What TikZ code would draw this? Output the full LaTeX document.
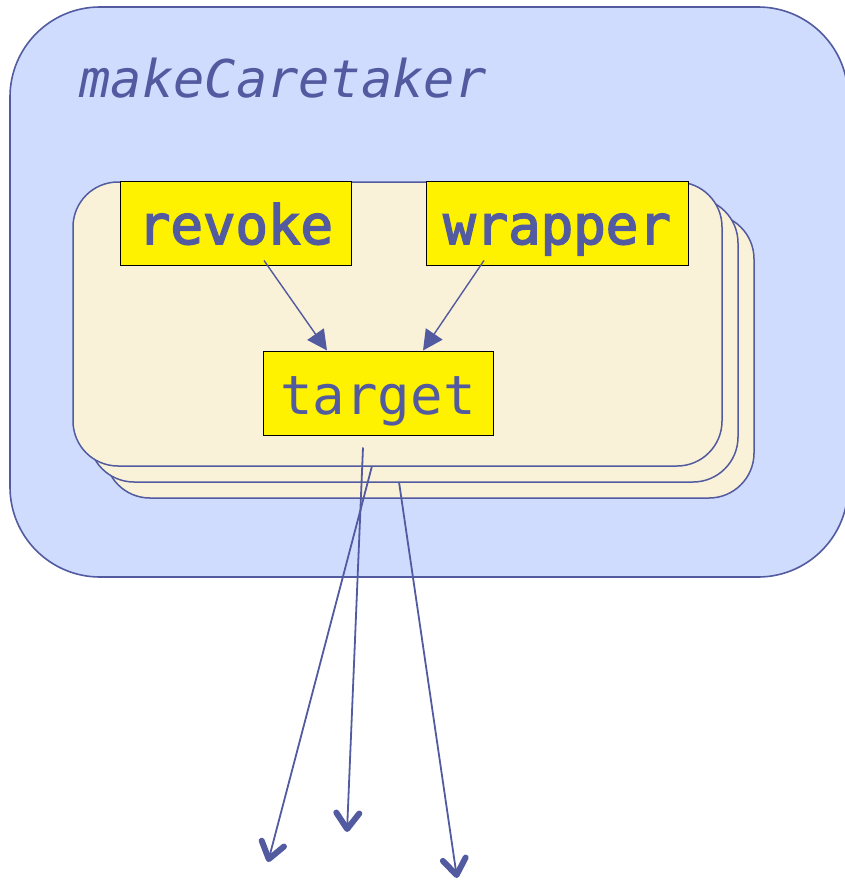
\documentclass[tikz,border=0pt]{standalone}
\usepackage{fontspec}
\setmonofont{DejaVu Sans Mono}
\newfontfamily\heavymono[FakeBold=3]{DejaVu Sans Mono}
\usetikzlibrary{arrows.meta}
\definecolor{ink}{RGB}{82,90,160}
\definecolor{caretaker}{RGB}{207,220,254}
\definecolor{cream}{RGB}{249,241,216}

\begin{document}
\begin{tikzpicture}[x=1pt,y=-1pt,
  fn/.style={draw=black,fill=yellow,line width=1pt,minimum width=#1,minimum height=84pt,
    inner sep=0pt,text=ink,text height=48pt,text depth=6pt,font=\fontsize{54}{54}\selectfont\ttfamily},
  heavy/.style={font=\fontsize{54}{54}\selectfont\heavymono},
  edge/.style={ink,line width=1.4pt,-{Triangle[length=20pt,width=20pt]}},
  leak/.style={ink,line width=1.8pt,-{Straight Barb[length=16pt,width=23pt,line width'=6pt,round]}}]
\useasboundingbox (0,0) rectangle (844,880);
% the closure that makes caretakers
\draw[ink,fill=caretaker,line width=1.6pt,rounded corners=90pt](10,7) rectangle (848,577);
\node[anchor=base west,text=ink,font=\fontsize{52}{52}\selectfont\ttfamily\itshape] (maker) at (76,98) {makeCaretaker};
% one caretaker per call
\foreach \d in {32,16,0}
  \draw[ink,fill=cream,line width=1.5pt,rounded corners=45pt](73+\d,182+\d) rectangle (722+\d,466+\d);
\node[fn=231pt,heavy] (revoke) at (235.5,223) {revoke};
\node[fn=262pt,heavy] (wrapper) at (557,223) {wrapper};
\node[fn=230pt] (target) at (378,393) {target};
\draw[edge]([xshift=28.5pt,yshift=5pt]revoke.south)--([xshift=-51pt]target.north);
\draw[edge]([xshift=-73pt,yshift=5pt]wrapper.south)--([xshift=45pt]target.north);
% references handed out
\coordinate (front) at (372,466);
\coordinate (back) at (399,482);
\coordinate (out1) at (268,862);
\coordinate (out2) at (347,832);
\coordinate (out3) at (457,878);
\draw[leak]([xshift=-15pt,yshift=-12pt]target.south)--(out2);
\draw[leak](front)--(out1);
\draw[leak](back)--(out3);
\end{tikzpicture}
\end{document}
